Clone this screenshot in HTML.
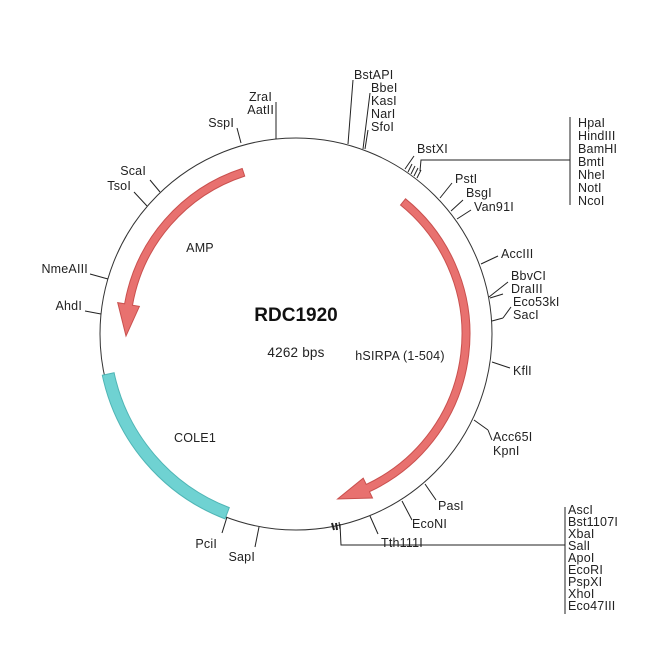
<!DOCTYPE html>
<html><head><meta charset="utf-8"><style>
html,body{margin:0;padding:0;background:#fff;}
svg{display:block;}
text{font-family:"Liberation Sans",sans-serif;font-size:12.5px;letter-spacing:0.2px;fill:#222;}
</style></head><body>
<svg width="650" height="650" viewBox="0 0 650 650" xmlns="http://www.w3.org/2000/svg">
<circle cx="296" cy="334" r="196" fill="none" stroke="#333" stroke-width="1"/>
<path d="M242.2 168.5 A174 174 0 0 0 124.6 303.8 L117.7 302.6 L126 336 L139.4 306.4 L132.5 305.2 A166 166 0 0 1 244.7 176.1 Z" fill="#e8716f" stroke="#c9504e" stroke-width="1"/>
<path d="M405.5 198.8 A174 174 0 0 1 369.5 491.7 L372.5 498 L337.6 499 L363.2 478.2 L366.2 484.4 A166 166 0 0 0 400.5 205 Z" fill="#e8716f" stroke="#c9504e" stroke-width="1"/>
<path d="M225 518.9 A198 198 0 0 1 102.3 375.2 L114.1 372.7 A186 186 0 0 0 229.3 507.6 Z" fill="#6fd2d2" stroke="#4fb5b5" stroke-width="1"/>
<g stroke="#222" stroke-width="1" fill="none">
<line x1="276" y1="139" x2="276" y2="102"/>
<line x1="241" y1="143" x2="237" y2="128"/>
<line x1="348" y1="144" x2="353" y2="80"/>
<line x1="363" y1="149" x2="370" y2="93"/>
<line x1="365" y1="149" x2="368" y2="130"/>
<line x1="405" y1="169" x2="414" y2="156"/>
<line x1="408" y1="172" x2="412" y2="164"/>
<line x1="411" y1="174" x2="415" y2="166"/>
<line x1="414" y1="176" x2="418" y2="168"/>
<line x1="417" y1="178" x2="421" y2="170"/>
<polyline points="420,171 421,160 570,160"/>
<line x1="570" y1="117" x2="570" y2="205"/>
<line x1="440" y1="198" x2="452" y2="183"/>
<line x1="451" y1="211" x2="463" y2="200"/>
<line x1="457" y1="219" x2="471" y2="210"/>
<line x1="481" y1="264" x2="498" y2="256"/>
<line x1="489" y1="297" x2="508" y2="282"/>
<line x1="490" y1="298" x2="503" y2="294"/>
<line x1="492" y1="321" x2="503" y2="318"/>
<line x1="503" y1="318" x2="511" y2="307"/>
<line x1="492" y1="362" x2="510" y2="368"/>
<line x1="474" y1="420" x2="488" y2="430"/>
<line x1="488" y1="430" x2="492" y2="440"/>
<line x1="425" y1="484" x2="436" y2="500"/>
<line x1="402" y1="501" x2="412" y2="520"/>
<line x1="370" y1="516" x2="378" y2="534"/>
<line x1="332" y1="523" x2="334" y2="530" stroke-width="2"/>
<line x1="336" y1="523" x2="337" y2="530" stroke-width="2"/>
<line x1="339" y1="522" x2="340" y2="529"/>
<polyline points="340,524 341,545 565,545"/>
<line x1="565" y1="507" x2="565" y2="614"/>
<line x1="227" y1="517" x2="222" y2="533"/>
<line x1="259" y1="527" x2="255" y2="547"/>
<line x1="160" y1="192" x2="150" y2="180"/>
<line x1="147" y1="206" x2="134" y2="192"/>
<line x1="108" y1="279" x2="90" y2="274"/>
<line x1="101" y1="314" x2="85" y2="311"/>
</g>
<g>
<text x="272" y="101" text-anchor="end">ZraI</text>
<text x="274" y="114" text-anchor="end">AatII</text>
<text x="234" y="127" text-anchor="end">SspI</text>
<text x="354" y="79">BstAPI</text>
<text x="371" y="92">BbeI</text>
<text x="371" y="105">KasI</text>
<text x="371" y="118">NarI</text>
<text x="371" y="131">SfoI</text>
<text x="417" y="153">BstXI</text>
<text x="578" y="127">HpaI</text>
<text x="578" y="140">HindIII</text>
<text x="578" y="153">BamHI</text>
<text x="578" y="166">BmtI</text>
<text x="578" y="179">NheI</text>
<text x="578" y="192">NotI</text>
<text x="578" y="205">NcoI</text>
<text x="455" y="183">PstI</text>
<text x="466" y="197">BsgI</text>
<text x="474" y="211">Van91I</text>
<text x="501" y="258">AccIII</text>
<text x="511" y="280">BbvCI</text>
<text x="511" y="293">DraIII</text>
<text x="513" y="306">Eco53kI</text>
<text x="513" y="319">SacI</text>
<text x="513" y="375">KflI</text>
<text x="493" y="441">Acc65I</text>
<text x="493" y="455">KpnI</text>
<text x="438" y="510">PasI</text>
<text x="412" y="528">EcoNI</text>
<text x="381" y="547">Tth111I</text>
<text x="568" y="514">AscI</text>
<text x="568" y="526">Bst1107I</text>
<text x="568" y="538">XbaI</text>
<text x="568" y="550">SalI</text>
<text x="568" y="562">ApoI</text>
<text x="568" y="574">EcoRI</text>
<text x="568" y="586">PspXI</text>
<text x="568" y="598">XhoI</text>
<text x="568" y="610">Eco47III</text>
<text x="217" y="548" text-anchor="end">PciI</text>
<text x="255" y="561" text-anchor="end">SapI</text>
<text x="146" y="175" text-anchor="end">ScaI</text>
<text x="131" y="190" text-anchor="end">TsoI</text>
<text x="88" y="273" text-anchor="end">NmeAIII</text>
<text x="82" y="310" text-anchor="end">AhdI</text>
<text x="200" y="252" text-anchor="middle">AMP</text>
<text x="400" y="360" text-anchor="middle">hSIRPA (1-504)</text>
<text x="195" y="442" text-anchor="middle">COLE1</text>
<text x="296" y="321" text-anchor="middle" style="font-size:19px;font-weight:bold;fill:#111;letter-spacing:0">RDC1920</text>
<text x="296" y="357" text-anchor="middle" style="font-size:13.5px">4262 bps</text>
</g>
</svg>
</body></html>
